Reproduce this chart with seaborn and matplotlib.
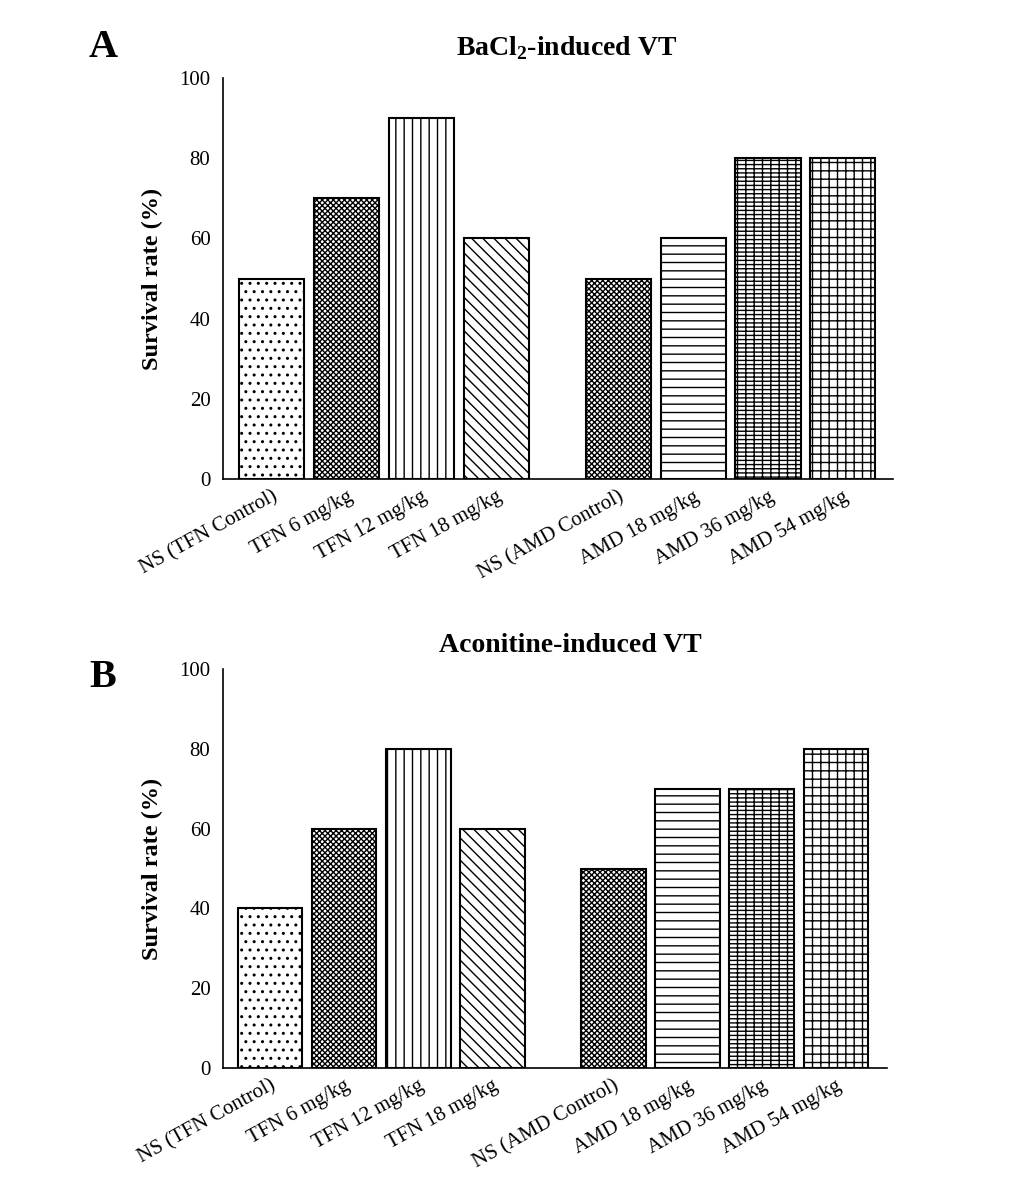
import numpy as np
import pandas as pd
import matplotlib
matplotlib.use("Agg")
import matplotlib.pyplot as plt
import seaborn as sns

# data
groups = ["NS (TFN Control)", "TFN 6 mg/kg", "TFN 12 mg/kg", "TFN 18 mg/kg",
          "NS (AMD Control)", "AMD 18 mg/kg", "AMD 36 mg/kg", "AMD 54 mg/kg"]
survival_bacl2 = [50, 70, 90, 60, 50, 60, 80, 80]
survival_aconitine = [40, 60, 80, 60, 50, 70, 70, 80]
hatches = ["..", "xxxxxx", "||", "\\\\\\", "xxxxxx", "--", "----||", "++"]

# layout: two groups of four bars with a wider gap between them
slot = [0, 1, 2, 3, 4.63, 5.63, 6.63, 7.63]

sns.set_style("white")
plt.rcParams["font.family"] = ["Liberation Serif", "DejaVu Serif"]
plt.rcParams["mathtext.fontset"] = "custom"
plt.rcParams["mathtext.rm"] = "Liberation Serif"
plt.rcParams["mathtext.bf"] = "Liberation Serif:bold"
plt.rcParams["hatch.linewidth"] = 1.0
plt.rcParams["hatch.color"] = "black"
for key in ["text.color", "axes.labelcolor", "xtick.color", "ytick.color"]:
    plt.rcParams[key] = "black"

fig = plt.figure(figsize=(10.33, 11.88), dpi=100)
W, H = 1033, 1188


def px_axes(x0, x1, ytop, ybot):
    return fig.add_axes([x0 / W, 1 - ybot / H, (x1 - x0) / W, (ybot - ytop) / H])


ax_a = px_axes(223, 893, 78, 479)
ax_b = px_axes(223, 887, 669, 1068)

for ax, vals, xlim in [(ax_a, survival_bacl2, (-0.653, 8.30)),
                       (ax_b, survival_aconitine, (-0.635, 8.32))]:
    df = pd.DataFrame({"pos": slot, "survival": vals})
    sns.barplot(data=df, x="pos", y="survival", ax=ax, native_scale=True,
                orient="x", color="white", edgecolor="black", linewidth=1.5,
                width=0.87, saturation=1)
    for patch in ax.patches:
        c = patch.get_x() + patch.get_width() / 2
        i = int(np.argmin([abs(c - s) for s in slot]))
        patch.set_hatch(hatches[i])
        patch.set_facecolor("white")
    ax.set_ylim(0, 100)
    ax.set_yticks(np.arange(0, 101, 20))
    ax.set_xlim(*xlim)
    ax.set_xticks(slot)
    ax.set_xticklabels(groups)
    ax.set_xlabel("")
    ax.set_ylabel("Survival rate (%)", fontsize=17.5, fontweight="bold", labelpad=12)
    ax.tick_params(axis="y", direction="in", length=5, width=1.2, labelsize=15, pad=9)
    ax.tick_params(axis="x", length=0, labelsize=15, pad=6)
    plt.setp(ax.get_xticklabels(), rotation=29, ha="right", rotation_mode="anchor")
    sns.despine(ax=ax)
    for side in ["left", "bottom"]:
        ax.spines[side].set_linewidth(1.2)
        ax.spines[side].set_color("black")

fig.text(567 / W, 1 - 55 / H, r"BaCl$_\mathbf{2}$-induced VT", ha="center", va="baseline",
         fontsize=20, fontweight="bold")
fig.text(570 / W, 1 - 652 / H, "Aconitine-induced VT", ha="center", va="baseline",
         fontsize=20, fontweight="bold")
fig.text(103 / W, 1 - 57 / H, "A", ha="center", va="baseline", fontsize=29, fontweight="bold")
fig.text(103 / W, 1 - 687 / H, "B", ha="center", va="baseline", fontsize=29, fontweight="bold")

fig.savefig("out.png", dpi=100, facecolor="white")
